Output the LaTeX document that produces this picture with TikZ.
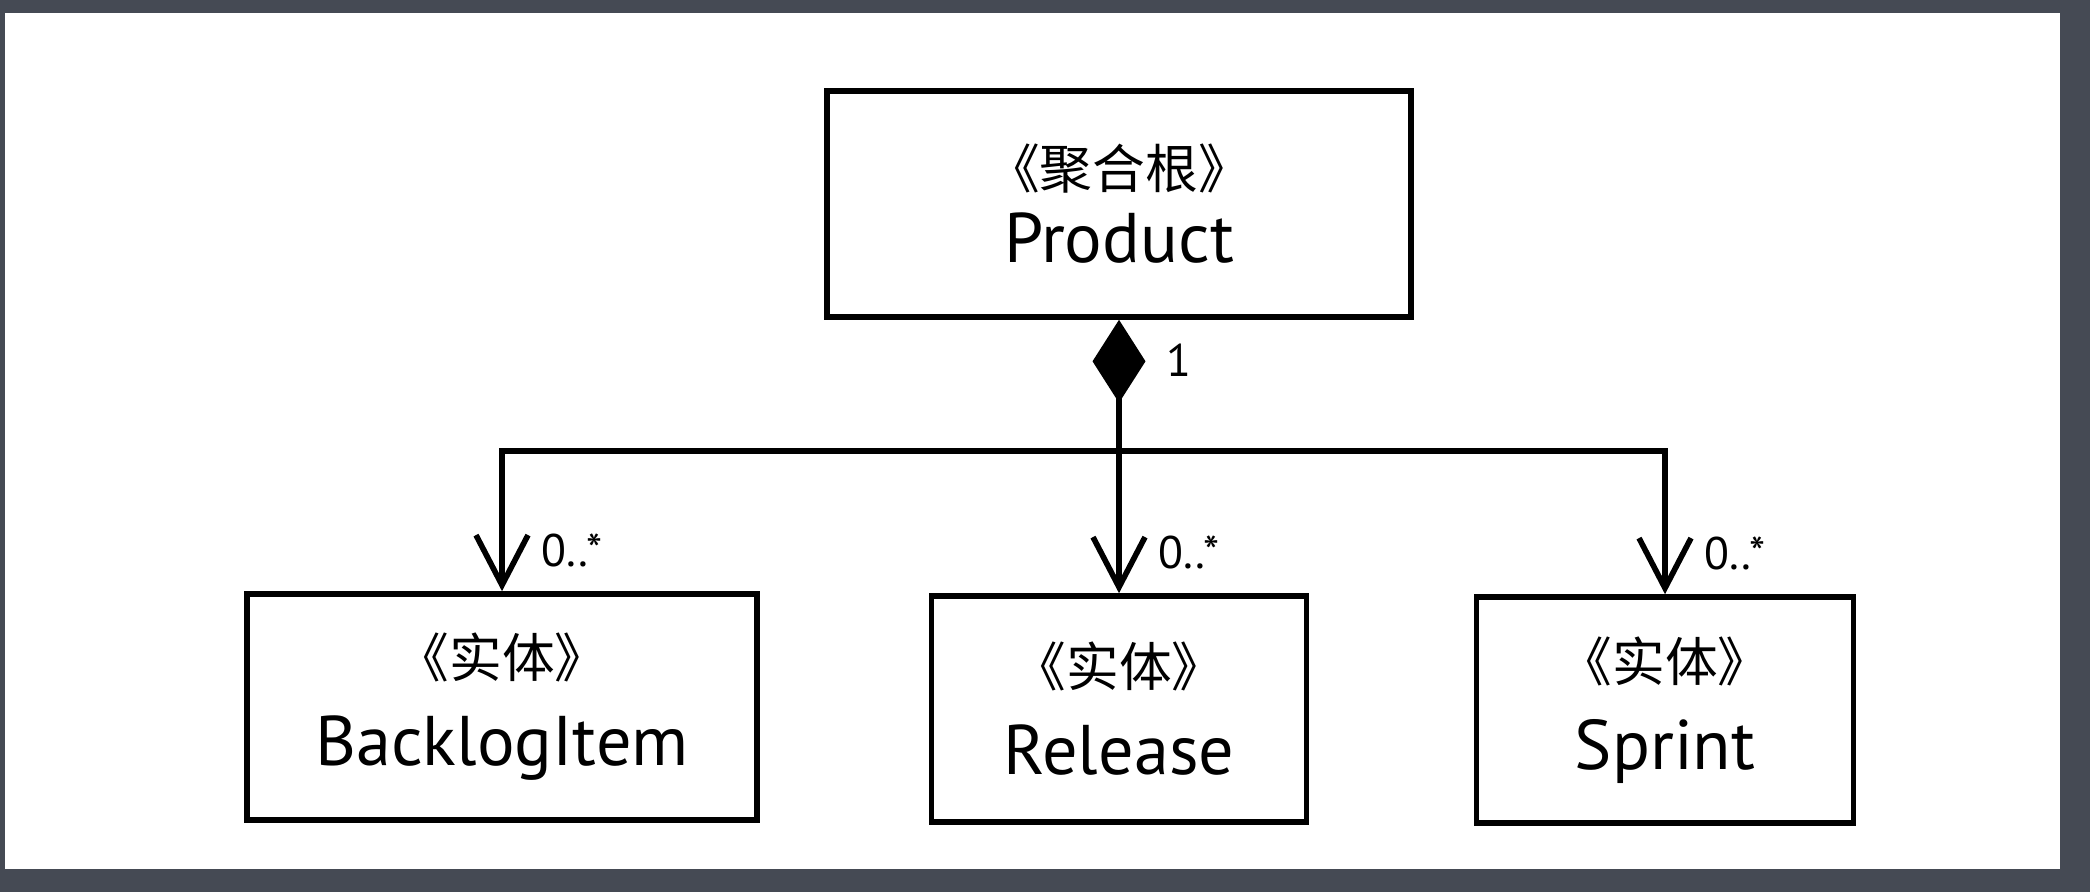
\documentclass[tikz,border=0pt]{standalone}
\usepackage{fontspec}
\setmainfont{PT Sans}
\newfontfamily\cjk{Noto Sans CJK SC}
\usepackage{xcolor}
\usepackage{tikz}
\usetikzlibrary{positioning, arrows.meta, calc}
\definecolor{framebg}{HTML}{454A54}
\newcommand{\stype}[1]{{\cjk\fontsize{15}{21}\selectfont 《#1》}}
\tikzset{
  umlbox/.style ={draw, line width=1.6pt, align=center, fill=white,
                  inner sep=0pt, minimum height=2.26cm,
                  font=\fontsize{20}{21}\selectfont},
  mult/.style   ={font=\fontsize{13}{15}\selectfont, inner sep=1pt},
  assoc/.style  ={-{Straight Barb[length=5mm, width=5.2mm]}, line width=1.6pt},
  compose/.style={{Diamond[length=8.3mm, width=5.3mm]}-, line width=1.6pt},
}

\begin{document}
\begin{tikzpicture}
  \useasboundingbox (0,0) rectangle (20.9,-8.92);
  \fill[framebg] (0,0) rectangle (20.9,-8.92);
  \fill[white] (0.05,-0.13) rectangle (20.6,-8.69);
  \node[umlbox, minimum width=5.84cm] (product) at (11.19,-2.04) {\stype{聚合根}\\Product};
  \node[umlbox, minimum width=5.10cm] (backlog) at (5.02,-7.07) {\stype{实体}\\[4pt]BacklogItem};
  \node[umlbox, minimum width=3.75cm] (release) at (11.19,-7.09) {\stype{实体}\\[4pt]Release};
  \node[umlbox, minimum width=3.77cm] (sprint)  at (16.65,-7.10) {\stype{实体}\\[4pt]Sprint};
  \coordinate (hub) at (11.19,-4.51);
  \draw[compose] (product.south) -- (hub);
  \draw[assoc] (hub) -| (backlog.north);
  \draw[assoc] (hub) -- (release.north);
  \draw[assoc] (hub) -| (sprint.north);
  \node[mult, anchor=west] (one) at ([xshift=4.3mm, yshift=-4mm]product.south) {1};
  \node[mult, anchor=base west] (mbacklog) at ([xshift=3.5mm, yshift=2.5mm]backlog.north) {0..*};
  \node[mult, anchor=base west] (mrelease) at ([xshift=3.5mm, yshift=2.5mm]release.north) {0..*};
  \node[mult, anchor=base west] (msprint)  at ([xshift=3.5mm, yshift=2.5mm]sprint.north) {0..*};
\end{tikzpicture}
\end{document}
